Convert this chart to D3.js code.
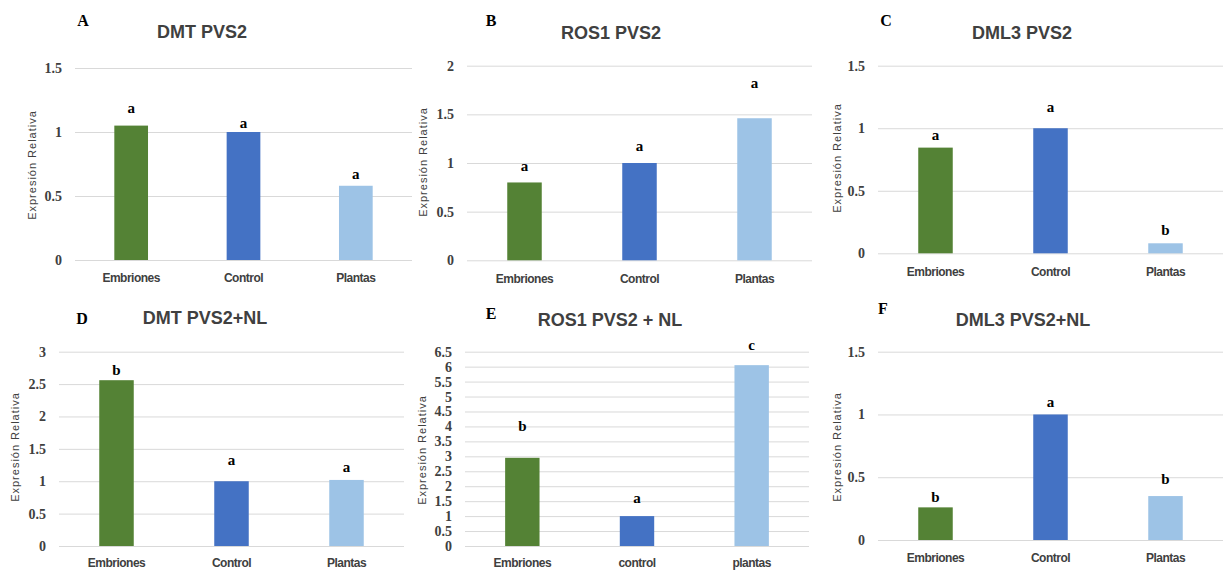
<!DOCTYPE html>
<html>
<head>
<meta charset="utf-8">
<script src="https://cdn.jsdelivr.net/npm/d3@7"></script>
<style>
  body { margin: 0; background: #fff; }
  svg { display: block; }
</style>
</head>
<body>
<div id="chart"></div>
<script>
// data
const tags = ['A', 'B', 'C', 'D', 'E', 'F'];
const titles = ['DMT PVS2', 'ROS1 PVS2', 'DML3 PVS2', 'DMT PVS2+NL', 'ROS1 PVS2 + NL', 'DML3 PVS2+NL'];
const categories = [
  ['Embriones', 'Control', 'Plantas'],
  ['Embriones', 'Control', 'Plantas'],
  ['Embriones', 'Control', 'Plantas'],
  ['Embriones', 'Control', 'Plantas'],
  ['Embriones', 'control', 'plantas'],
  ['Embriones', 'Control', 'Plantas']
];
const values = [
  [1.05, 1.0, 0.58],
  [0.80, 1.0, 1.46],
  [0.845, 1.0, 0.08],
  [2.56, 1.0, 1.02],
  [2.95, 1.0, 6.05],
  [0.26, 1.0, 0.35]
];
const letters = [
  ['a', 'a', 'a'],
  ['a', 'a', 'a'],
  ['a', 'a', 'b'],
  ['b', 'a', 'a'],
  ['b', 'a', 'c'],
  ['b', 'a', 'b']
];
// height (in data units) where each significance letter sits
const letterY = [
  [1.19, 1.07, 0.67],
  [0.97, 1.18, 1.82],
  [0.946, 1.17, 0.19],
  [2.72, 1.33, 1.22],
  [4.01, 1.62, 6.74],
  [0.345, 1.10, 0.49]
];
const yMaxes = [1.5, 2, 1.5, 3, 6.5, 1.5];
const yTitle = 'Expresión Relativa';

const colors = ['#548235', '#4472C4', '#9DC3E6'];

// panel placement in the 1224x571 page
const layout = [
  { left: 75, right: 412, bottom: 260, top: 68, yTitleX: 32, yTitleY: 165, titleX: 202, titleY: 32, tagX: 83, tagY: 20, catY: 278 },
  { left: 467, right: 812, bottom: 260.3, top: 65.7, yTitleX: 423, yTitleY: 162, titleX: 611, titleY: 33, tagX: 491, tagY: 20, catY: 279 },
  { left: 878, right: 1223, bottom: 253.3, top: 65.7, yTitleX: 837, yTitleY: 158, titleX: 1022, titleY: 33, tagX: 886, tagY: 20, catY: 272 },
  { left: 59, right: 404, bottom: 546, top: 351.7, yTitleX: 15, yTitleY: 447, titleX: 205, titleY: 318, tagX: 82, tagY: 318, catY: 563 },
  { left: 465, right: 809, bottom: 546, top: 351.7, yTitleX: 422, yTitleY: 450, titleX: 610, titleY: 320, tagX: 491, tagY: 313, catY: 563 },
  { left: 878, right: 1223, bottom: 540, top: 351.7, yTitleX: 837, yTitleY: 447, titleX: 1023, titleY: 320, tagX: 883, tagY: 308, catY: 558 }
];

const svg = d3.select('#chart')
  .append('svg')
  .attr('width', 1224)
  .attr('height', 571);

const fmt = d3.format('~g');

tags.forEach((tag, i) => {
  let L = layout[i];
  let g = svg.append('g');

  let x = d3.scaleBand()
    .domain(categories[i])
    .range([L.left, L.right])
    .paddingInner(0.7)
    .paddingOuter(0.35);

  let y = d3.scaleLinear()
    .domain([0, yMaxes[i]])
    .range([L.bottom, L.top]);

  // gridlines + tick labels
  let yAxis = d3.axisLeft(y)
    .tickValues(d3.range(0, yMaxes[i] + 0.25, 0.5))
    .tickFormat(fmt)
    .tickSize(-(L.right - L.left))
    .tickPadding(13);

  let ax = g.append('g')
    .attr('transform', 'translate(' + L.left + ',0)')
    .call(yAxis);
  ax.select('.domain').remove();
  ax.selectAll('line')
    .attr('stroke', '#d9d9d9')
    .attr('stroke-width', 1);
  ax.selectAll('text')
    .attr('fill', '#404040')
    .style('font-family', '"Liberation Serif", "DejaVu Serif", serif')
    .style('font-size', '14px')
    .style('font-weight', 'bold');

  // bars
  g.selectAll('rect.bar')
    .data(values[i])
    .enter()
    .append('rect')
    .attr('class', 'bar')
    .attr('x', (d, j) => x(categories[i][j]))
    .attr('width', x.bandwidth())
    .attr('y', d => y(d))
    .attr('height', d => y(0) - y(d))
    .attr('fill', (d, j) => colors[j]);

  // significance letters
  g.selectAll('text.sig')
    .data(letters[i])
    .enter()
    .append('text')
    .attr('class', 'sig')
    .attr('x', (d, j) => x(categories[i][j]) + x.bandwidth() / 2)
    .attr('y', (d, j) => y(letterY[i][j]))
    .attr('dy', '0.35em')
    .attr('text-anchor', 'middle')
    .style('font-family', '"Liberation Serif", "DejaVu Serif", serif')
    .style('font-size', '15px')
    .style('font-weight', 'bold')
    .attr('fill', '#000')
    .text(d => d);

  // category labels
  g.selectAll('text.cat')
    .data(categories[i])
    .enter()
    .append('text')
    .attr('class', 'cat')
    .attr('x', d => x(d) + x.bandwidth() / 2)
    .attr('y', L.catY)
    .attr('dy', '0.35em')
    .attr('text-anchor', 'middle')
    .style('font-family', '"Liberation Sans", Arial, sans-serif')
    .style('font-size', '12px')
    .style('letter-spacing', '-0.5px')
    .style('font-weight', 'bold')
    .attr('fill', '#404040')
    .text(d => d);

  // y axis title
  g.append('text')
    .attr('transform', 'translate(' + L.yTitleX + ',' + L.yTitleY + ') rotate(-90)')
    .attr('dy', '0.35em')
    .attr('text-anchor', 'middle')
    .style('font-family', '"Liberation Sans", Arial, sans-serif')
    .style('font-size', '11px')
    .style('letter-spacing', '1px')
    .attr('fill', '#404040')
    .text(yTitle);

  // chart title
  g.append('text')
    .attr('x', L.titleX)
    .attr('y', L.titleY)
    .attr('dy', '0.35em')
    .attr('text-anchor', 'middle')
    .style('font-family', '"Liberation Sans", Arial, sans-serif')
    .style('font-size', '18px')
    .style('font-weight', 'bold')
    .attr('fill', '#404040')
    .text(titles[i]);

  // panel tag
  g.append('text')
    .attr('x', L.tagX)
    .attr('y', L.tagY)
    .attr('dy', '0.35em')
    .attr('text-anchor', 'middle')
    .style('font-family', '"Liberation Serif", "DejaVu Serif", serif')
    .style('font-size', '16px')
    .style('font-weight', 'bold')
    .attr('fill', '#000')
    .text(tag);
});
</script>
</body>
</html>
